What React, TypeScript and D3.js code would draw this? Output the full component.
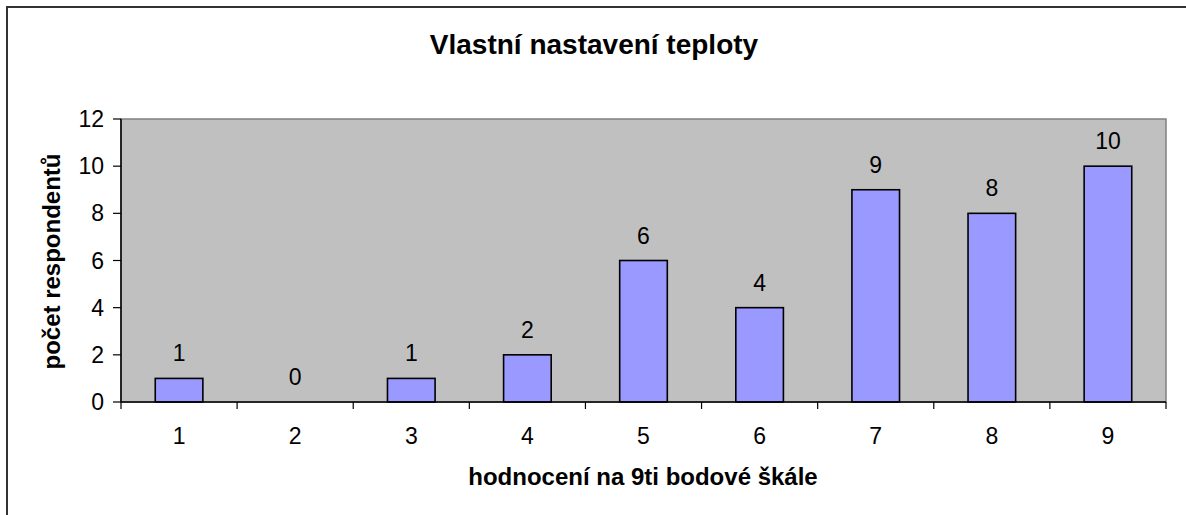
import React from "react";
import * as d3 from "d3";

const categories = ["1", "2", "3", "4", "5", "6", "7", "8", "9"];
const values = [1, 0, 1, 2, 6, 4, 9, 8, 10];
const yTicks = [0, 2, 4, 6, 8, 10, 12];
const title = "Vlastní nastavení teploty";
const yTitle = "počet respondentů";
const xTitle = "hodnocení na 9ti bodové škále";

export default function App() {
  const W = 1186, H = 515;
  const left = 121, right = 1166, top = 119, bottom = 402;
  const x = d3.scaleBand().domain(categories).range([left, right]).paddingInner(0).paddingOuter(0);
  const y = d3.scaleLinear().domain([0, 12]).range([bottom, top]);
  const bw = x.bandwidth() * 0.41;
  const font = "Arial, 'Liberation Sans', Helvetica, sans-serif";
  return (
    <svg width={W} height={H} style={{ position: "absolute", left: 0, top: 0 }} fontFamily={font}>
      <rect x={0} y={0} width={W} height={H} fill="#fff" />
      <path d={`M7,${H + 5} L7,7 L${W + 5},7`} fill="none" stroke="#333" strokeWidth={2} />
      <text x={594} y={54} textAnchor="middle" fontWeight="bold" fontSize={28}>{title}</text>
      <rect x={left} y={top} width={right - left} height={bottom - top} fill="#C0C0C0" stroke="#808080" strokeWidth={1.5} />
      {categories.map((c, i) => {
        const v = values[i];
        const cx = x(c)! + x.bandwidth() / 2;
        return (
          <g key={c}>
            {v > 0 && (
              <rect x={cx - bw / 2} y={y(v)} width={bw} height={y(0) - y(v)} fill="#9999FF" stroke="#000" strokeWidth={1.6} />
            )}
            <text x={cx} y={y(v) - 17} textAnchor="middle" fontSize={23}>{v}</text>
            <text x={cx} y={444} textAnchor="middle" fontSize={23}>{c}</text>
          </g>
        );
      })}
      <line x1={left} x2={left} y1={top} y2={bottom} stroke="#000" strokeWidth={1.5} />
      <line x1={left} x2={right} y1={bottom} y2={bottom} stroke="#000" strokeWidth={1.5} />
      {yTicks.map(t => (
        <g key={t}>
          <line x1={113} x2={left} y1={y(t)} y2={y(t)} stroke="#000" strokeWidth={1.2} />
          <text x={104} y={y(t) + 8} textAnchor="end" fontSize={23}>{t}</text>
        </g>
      ))}
      {categories.map((c, i) => (
        <line key={"t" + i} x1={x(c)!} x2={x(c)!} y1={bottom} y2={409} stroke="#000" strokeWidth={1.2} />
      ))}
      <line x1={right} x2={right} y1={bottom} y2={409} stroke="#000" strokeWidth={1.2} />
      <text transform={`translate(60,261.5) rotate(-90)`} textAnchor="middle" fontWeight="bold" fontSize={24}>{yTitle}</text>
      <text x={643} y={485} textAnchor="middle" fontWeight="bold" fontSize={24}>{xTitle}</text>
    </svg>
  );
}
